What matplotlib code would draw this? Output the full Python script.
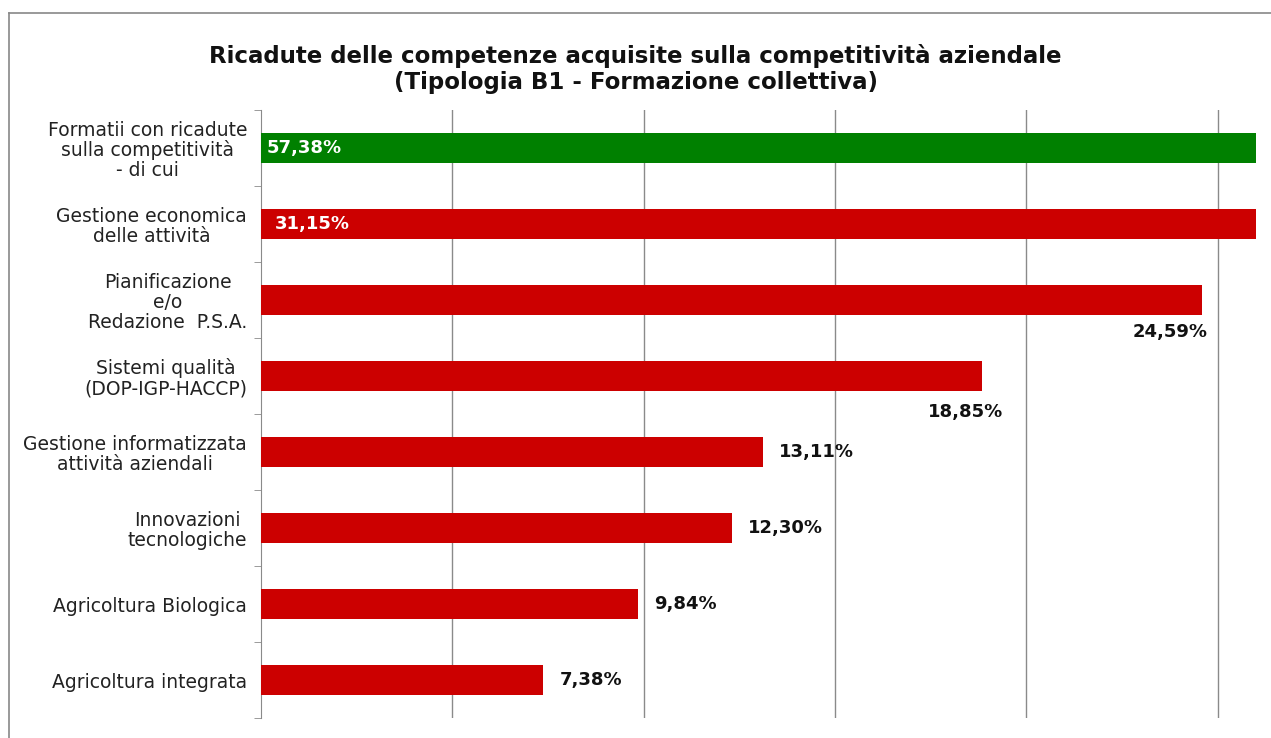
import matplotlib
matplotlib.use('Agg')
import matplotlib.pyplot as plt
from matplotlib.lines import Line2D

# dati del grafico
categorie = ['Formatii con ricadute\nsulla competitività\n- di cui',
             'Gestione economica\ndelle attività',
             'Pianificazione\ne/o\nRedazione  P.S.A.',
             'Sistemi qualità\n(DOP-IGP-HACCP)',
             'Gestione informatizzata\nattività aziendali',
             'Innovazioni\ntecnologiche',
             'Agricoltura Biologica',
             'Agricoltura integrata']
valori = [57.38, 31.15, 24.59, 18.85, 13.11, 12.30, 9.84, 7.38]
colori = ['#008000'] + ['#cc0000'] * 7

# posizione delle etichette
# 'in' = dentro la barra a sinistra, 'below' = sotto la fine, 'right' = a destra
pos_etichette = ['in', 'in', 'below', 'below', 'right', 'right', 'right', 'right']

W, H = 1271, 738
fig = plt.figure(figsize=(W / 100, H / 100), dpi=100)
ax = fig.add_axes([261 / W, 1 - 718 / H, (1256 - 261) / W, (718 - 110) / H])

y = list(range(len(valori)))
ax.barh(y, valori, height=0.39, color=colori, zorder=3)
ax.set_xlim(0, 26)
ax.set_ylim(len(valori) - 0.5, -0.5)

# griglia verticale
ax.set_xticks([5, 10, 15, 20, 25])
ax.tick_params(axis='x', length=0, labelbottom=False)
ax.grid(True, axis='x', color='#8a8a8a', linewidth=1, zorder=0)

# asse y
ax.set_yticks(y)
ax.set_yticklabels(categorie, fontsize=13.5, color='#222222',
                   multialignment='center', linespacing=1.05)
ax.tick_params(axis='y', which='major', length=0, pad=10)
ax.set_yticks([i - 0.5 for i in range(len(valori) + 1)], minor=True)
ax.tick_params(axis='y', which='minor', length=5, color='#8a8a8a', direction='out')
for s in ['top', 'right', 'bottom']:
    ax.spines[s].set_visible(False)
ax.spines['left'].set_color('#8a8a8a')

# etichette dei valori
for i, v in enumerate(valori):
    testo = f'{v:.2f}%'.replace('.', ',')
    p = pos_etichette[i]
    if p == 'in':
        ax.annotate(testo, (0, i), xytext=(4 + 6 * i, 0), textcoords='offset points',
                    ha='left', va='center', color='white', fontsize=13, fontweight='bold', zorder=4)
    elif p == 'below':
        ax.annotate(testo, (v, i), xytext=(4 + 11 * (i - 2), -23 - 3 * (i - 2)),
                    textcoords='offset points', ha='right', va='center',
                    color='#111111', fontsize=13, fontweight='bold', zorder=4)
    else:
        ax.annotate(testo, (v, i), xytext=(12, 0), textcoords='offset points',
                    ha='left', va='center', color='#111111', fontsize=13, fontweight='bold', zorder=4)

# titolo
fig.text(0.5, 1 - 56 / H, 'Ricadute delle competenze acquisite sulla competitività aziendale',
         ha='center', va='center', fontsize=16.5, fontweight='bold', color='#111111')
fig.text(0.5, 1 - 83 / H, '(Tipologia B1 - Formazione collettiva)',
         ha='center', va='center', fontsize=16.5, fontweight='bold', color='#111111')

# cornice
fig.add_artist(Line2D([9 / W, 9 / W], [0, 1 - 13 / H], color='#888888', linewidth=1.2))
fig.add_artist(Line2D([9 / W, 1], [1 - 13 / H, 1 - 13 / H], color='#888888', linewidth=1.2))

fig.savefig('out.png', dpi=100)
